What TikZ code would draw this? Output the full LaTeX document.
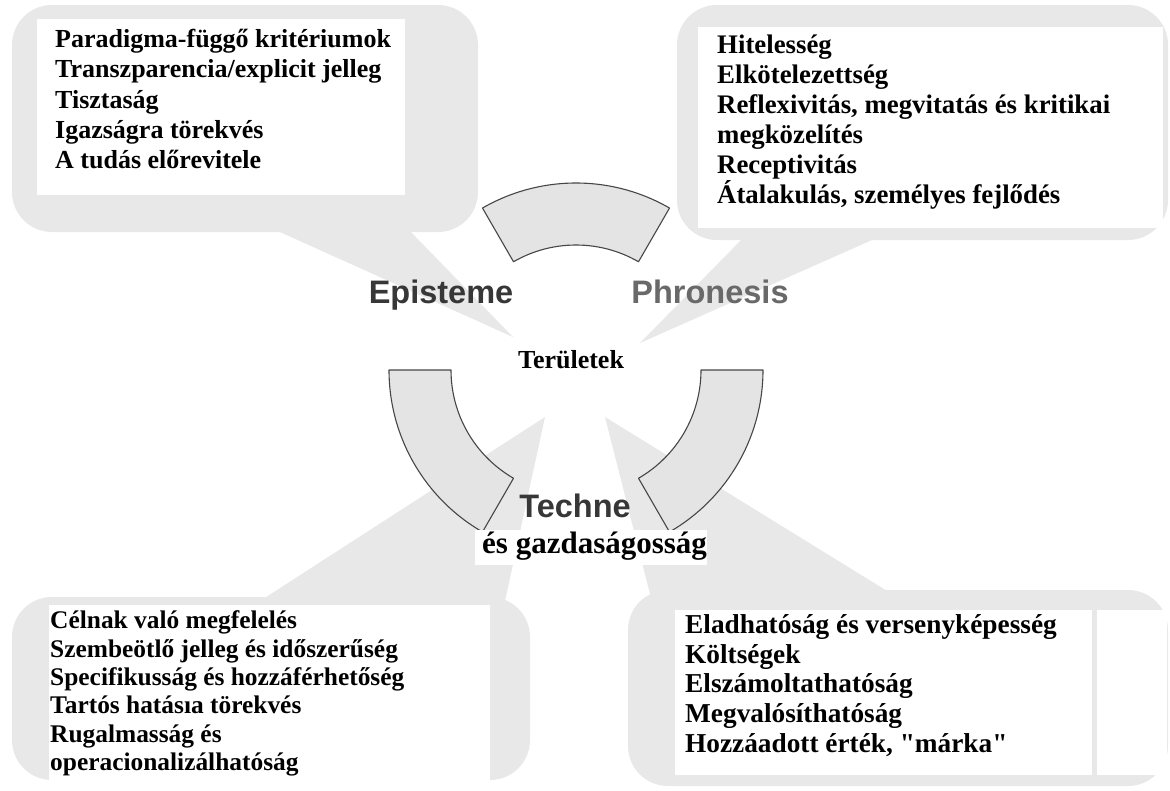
\documentclass[tikz,border=0pt]{standalone}
\usepackage{fontspec}
\setmainfont{Liberation Serif}
\newfontfamily\rawserif[Ligatures=ResetAll]{Liberation Serif}
\newfontfamily\labelsans{Liberation Sans}
\usetikzlibrary{calc}
\definecolor{bubblegrey}{RGB}{232,232,233}
\definecolor{bandgrey}{RGB}{228,228,229}
\definecolor{bandline}{RGB}{70,70,70}
\definecolor{darklabel}{RGB}{55,55,55}
\definecolor{lightlabel}{RGB}{105,105,105}
\newcommand{\straightquote}{{\rawserif\bfseries"}}
\begin{document}
\begin{tikzpicture}[x=1pt,y=-1pt,
  bubble/.style={fill=bubblegrey},
  paper/.style={fill=white},
  band/.style={fill=bandgrey, draw=bandline, line width=1.1pt, line join=round},
  item/.style={anchor=base west, inner sep=0pt, font=\bfseries\fontsize{#1}{30}\selectfont},
  item/.default=26,
  domainlabel/.style={anchor=base, inner sep=0pt, font=\labelsans\bfseries\fontsize{32.5}{32.5}\selectfont}
]
\useasboundingbox (0,0) rectangle (1170,790);
\fill[white] (0,0) rectangle (1170,790);

% speech bubbles
\fill[bubble, rounded corners=40pt] (12,5) rectangle (478,232);
\fill[bubble] (271,228) -- (407,228) -- (513,337) -- cycle;
\fill[bubble, rounded corners=40pt] (677,5) rectangle (1168,240);
\fill[bubble] (745,236) -- (881,236) -- (640,343) -- cycle;
\fill[bubble, rounded corners=40pt] (12,597) rectangle (530,780);
\fill[bubble] (260,601) -- (505,601) -- (545,417) -- cycle;
\fill[bubble, rounded corners=40pt] (628,590) rectangle (1168,786);
\fill[bubble] (650,594) -- (892,594) -- (605,417) -- cycle;

% white text panels
\fill[paper] (37,19) rectangle (405,195);
\fill[paper] (698,27) rectangle (1163,228);
\fill[paper] (49,605) rectangle (490,790);
\fill[paper] (675,610) rectangle (1092,775);
\fill[paper] (1097,610) rectangle (1167,775);

% top-left list
\node[item] (tl1) at (55,47)  {Paradigma-függő kritériumok};
\node[item] (tl2) at (55,77)  {Transzparencia/explicit jelleg};
\node[item] (tl3) at (55,108) {Tisztaság};
\node[item] (tl4) at (55,138) {Igazságra törekvés};
\node[item] (tl5) at (55,168) {A tudás előrevitele};

% top-right list
\node[item=26.8] (tr1) at (717,53)  {Hitelesség};
\node[item=26.8] (tr2) at (717,83)  {Elkötelezettség};
\node[item=26.8] (tr3) at (717,113) {Reflexivitás, megvitatás és kritikai};
\node[item=26.8] (tr4) at (717,143) {megközelítés};
\node[item=26.8] (tr5) at (717,173) {Receptivitás};
\node[item=26.8] (tr6) at (717,203) {Átalakulás, személyes fejlődés};

% bottom-left list
\node[item=25.4] (bl1) at (50,628) {Célnak való megfelelés};
\node[item=25.4] (bl2) at (50,657) {Szembeötlő jelleg és időszerűség};
\node[item=25.4] (bl3) at (50,685) {Specifikusság és hozzáférhetőség};
\node[item=25.4] (bl4) at (50,713) {Tartós hatásıa törekvés};
\node[item=25.4] (bl5) at (50,742) {Rugalmasság és};
\node[item=25.4] (bl6) at (50,770) {operacionalizálhatóság};

% bottom-right list
\node[item=27.3] (br1) at (685,633) {Eladhatóság és versenyképesség};
\node[item=27.3] (br2) at (685,663) {Költségek};
\node[item=27.3] (br3) at (685,692) {Elszámoltathatóság};
\node[item=27.3] (br4) at (685,722) {Megvalósíthatóság};
\node[item=27.3] (br5) at (685,752) {Hozzáadott érték, \straightquote márka\straightquote};

% central ring of bands
\coordinate (c) at (576,370);
\draw[band] ($(c)+(-60:187)$) arc[start angle=-60,end angle=-120,radius=187]
  -- ($(c)+(-120:125)$) arc[start angle=-120,end angle=-60,radius=125] -- cycle;
\draw[band] ($(c)+(120:187)$) arc[start angle=120,end angle=180,radius=187]
  -- ($(c)+(180:125)$) arc[start angle=180,end angle=120,radius=125] -- cycle;
\draw[band] ($(c)+(0:187)$) arc[start angle=0,end angle=60,radius=187]
  -- ($(c)+(60:125)$) arc[start angle=60,end angle=0,radius=125] -- cycle;

% domain labels
\node[domainlabel, text=darklabel] (episteme) at (441,303) {Episteme};
\node[domainlabel, text=lightlabel] (phronesis) at (710,303) {Phronesis};
\node[domainlabel, text=darklabel] (techne) at (575,517) {Techne};
\node[anchor=base, inner sep=0pt, font=\bfseries\fontsize{26}{26}\selectfont] (terulet) at (571,368) {Területek};

% economy line
\fill[paper] (475,530) rectangle (707,565);
\node[item=31] (gazd) at (482,553) {és gazdaságosság};
\end{tikzpicture}
\end{document}
